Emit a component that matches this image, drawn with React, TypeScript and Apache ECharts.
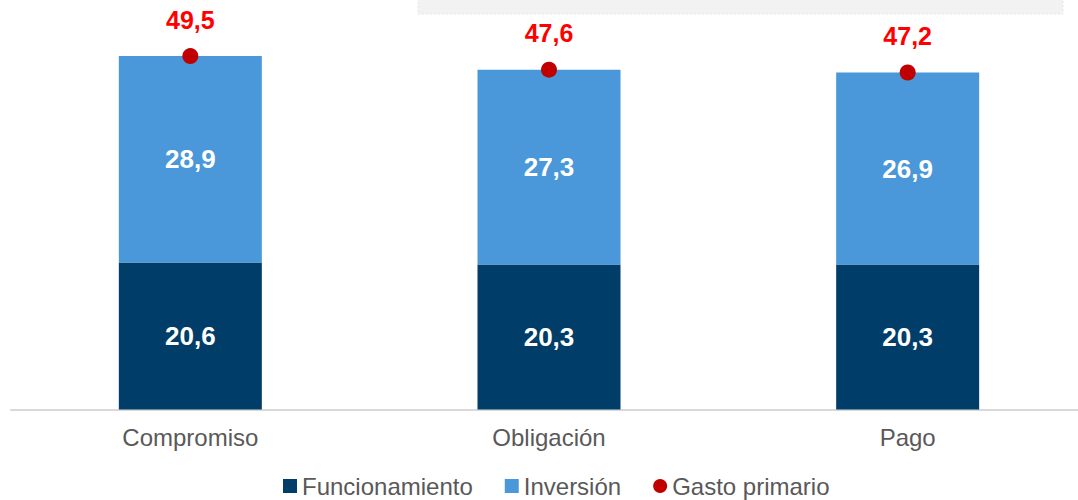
import React, { useEffect, useRef } from "react";
import * as echarts from "echarts";

const categories = ["Compromiso", "Obligación", "Pago"];
const funcionamiento = [20.6, 20.3, 20.3];
const inversion = [28.9, 27.3, 26.9];
const gastoPrimario = [49.5, 47.6, 47.2];

const fmt = (v: number) => v.toFixed(1).replace(".", ",");
const FONT = "'Liberation Sans', Arial, sans-serif";

export default function App() {
  const ref = useRef<HTMLDivElement>(null);
  useEffect(() => {
    const chart = echarts.init(ref.current!, null, { renderer: "svg" });
    chart.setOption({
      animation: false,
      textStyle: { fontFamily: FONT },
      graphic: [
        {
          type: "rect",
          shape: { x: 418, y: -2, width: 645, height: 16 },
          style: { fill: "#f2f2f2", stroke: "#e6e6e6", lineWidth: 1, lineDash: [2, 2] },
          silent: true,
        },
      ],
      legend: {
        top: 474,
        left: 283,
        padding: 0,
        itemWidth: 14,
        itemHeight: 14,
        itemGap: 32,
        textStyle: { fontSize: 24, lineHeight: 22, color: "#595959", fontFamily: FONT },
        data: [
          { name: "Funcionamiento", icon: "rect" },
          { name: "Inversión", icon: "rect" },
          { name: "Gasto primario", icon: "circle" },
        ],
      },
      grid: { left: 11, right: 0, top: 16.8, bottom: 90.5, containLabel: false },
      xAxis: {
        type: "category",
        data: categories,
        axisLine: { lineStyle: { color: "#d9d9d9", width: 2 } },
        axisTick: { show: false },
        axisLabel: { fontSize: 24, color: "#595959", margin: 16, fontFamily: FONT },
      },
      yAxis: {
        type: "value",
        min: 0,
        max: 55,
        show: false,
        splitLine: { show: false },
      },
      series: [
        {
          name: "Funcionamiento",
          type: "bar",
          stack: "total",
          data: funcionamiento,
          barWidth: 143,
          itemStyle: { color: "#003e69" },
          label: {
            show: true,
            position: "inside",
            color: "#ffffff",
            fontSize: 26,
            fontWeight: "bold",
            fontFamily: FONT,
            formatter: (p: any) => fmt(p.value),
          },
        },
        {
          name: "Inversión",
          type: "bar",
          stack: "total",
          data: inversion,
          barWidth: 143,
          itemStyle: { color: "#4a98d9" },
          label: {
            show: true,
            position: "inside",
            color: "#ffffff",
            fontSize: 26,
            fontWeight: "bold",
            fontFamily: FONT,
            formatter: (p: any) => fmt(p.value),
          },
        },
        {
          name: "Gasto primario",
          type: "scatter",
          data: gastoPrimario,
          symbol: "circle",
          symbolSize: 16,
          itemStyle: { color: "#c00000", opacity: 1 },
          label: {
            show: true,
            position: "top",
            distance: 16,
            color: "#ff0000",
            opacity: 1,
            fontSize: 25,
            fontWeight: "bold",
            fontFamily: FONT,
            formatter: (p: any) => fmt(p.value),
          },
          z: 5,
        },
      ],
    });
    return () => chart.dispose();
  }, []);
  return (
    <div
      style={{ position: "absolute", left: 0, top: 0, width: 1078, height: 500, overflow: "hidden" }}
    >
      <div ref={ref} style={{ width: 1087, height: 500 }} />
    </div>
  );
}
